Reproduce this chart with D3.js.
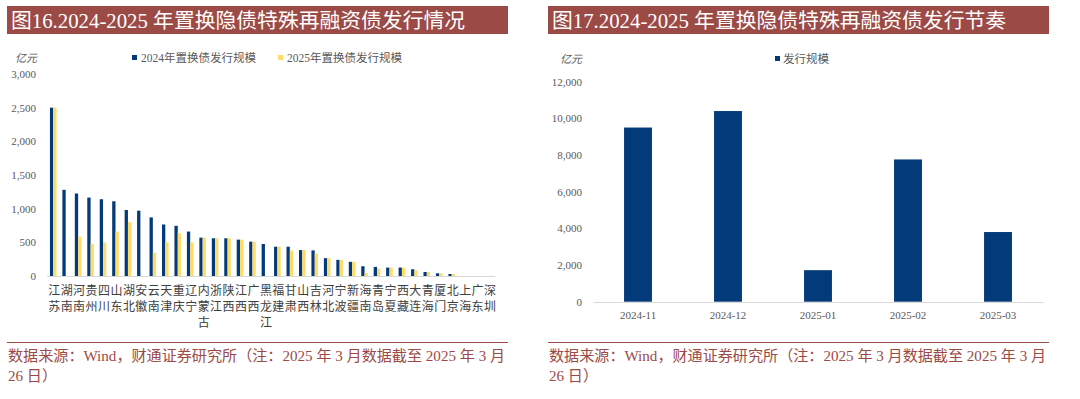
<!DOCTYPE html>
<html>
<head>
<meta charset="utf-8">
<script src="https://cdn.jsdelivr.net/npm/d3@7"></script>
<style>
  body { margin: 0; background: #fff; }
  svg { display: block; }
  text { font-family: "Liberation Serif", "Noto Sans CJK SC", serif; }
</style>
</head>
<body>
<div id="chart"></div>
<script>
// Data: province issuance (亿元)
var provinces = ["江苏","湖南","河南","贵州","四川","山东","湖北","安徽","云南","天津","重庆","辽宁",
  "内蒙古","浙江","陕西","江西","广西","黑龙江","福建","甘肃","山西","吉林","河北","宁波",
  "新疆","海南","青岛","宁夏","西藏","大连","青海","厦门","北京","上海","广东","深圳"];
var issue2024 = [2500,1280,1225,1165,1140,1110,980,970,870,765,745,660,
  570,560,560,540,510,475,435,435,385,380,265,240,
  210,145,135,125,125,100,60,40,30,0,0,0];
var issue2025 = [2500,0,585,475,500,660,800,0,345,500,635,500,
  570,560,560,540,510,0,435,380,385,335,265,240,
  210,45,110,125,125,85,60,40,30,0,0,0];
var seriesNames = ["2024年置换债发行规模", "2025年置换债发行规模"];
var leftTicks = [0,500,1000,1500,2000,2500,3000];

// Data: monthly rhythm (亿元)
var months = ["2024-11","2024-12","2025-01","2025-02","2025-03"];
var monthly = [9500,10400,1720,7760,3800];
var rightTicks = [0,2000,4000,6000,8000,10000,12000];

var navy = "#023a7a", yellow = "#ffdc6a", brick = "#9c4a46";
var fmt = d3.format(",");

var svg = d3.select("#chart").append("svg")
    .attr("width", 1080)
    .attr("height", 399);

// Panel frame: title bar + footer
function panel(x0, title) {
  svg.append("rect")
      .attr("x", x0).attr("y", 6)
      .attr("width", 501).attr("height", 28)
      .attr("fill", brick);
  svg.append("text")
      .attr("x", x0 + 4).attr("y", 27.5)
      .attr("fill", "#fff")
      .style("font-size", "20.8px")
      .text(title);
  svg.append("line")
      .attr("x1", x0).attr("x2", x0 + 501)
      .attr("y1", 342.5).attr("y2", 342.5)
      .attr("stroke", brick).attr("stroke-width", 1);
  var foot = svg.append("text")
      .attr("fill", brick)
      .style("font-size", "15.1px");
  foot.append("tspan").attr("x", x0 + 1).attr("y", 361)
      .text("数据来源：Wind，财通证券研究所（注：2025 年 3 月数据截至 2025 年 3 月");
  foot.append("tspan").attr("x", x0 + 1).attr("y", 381)
      .text("26 日）");
}

panel(7, "图16.2024-2025 年置换隐债特殊再融资债发行情况");
panel(548, "图17.2024-2025 年置换隐债特殊再融资债发行节奏");

// ---------- Left chart ----------
var x1 = d3.scaleBand()
    .domain(provinces)
    .range([47, 495.3])
    .padding(0);
var xs = d3.scaleBand()
    .domain([0, 1])
    .range([x1.bandwidth() / 2 - 3.3, x1.bandwidth() / 2 + 3.3]);
var y1 = d3.scaleLinear()
    .domain([0, 3000])
    .range([276, 74]);

var gl = svg.append("g");

gl.append("g")
    .attr("transform", "translate(36,0)")
    .call(d3.axisLeft(y1).tickValues(leftTicks).tickFormat(fmt).tickSize(0).tickPadding(0))
    .call(function(g) { g.select(".domain").remove(); })
    .selectAll("text")
    .attr("fill", "#595959")
    .style("font-size", "11px")
    .style("font-family", "Liberation Serif");

var groups = gl.selectAll(".prov")
    .data(provinces)
    .enter().append("g")
    .attr("transform", function(d) { return "translate(" + x1(d) + ",0)"; });

groups.selectAll("rect")
    .data(function(d, i) { return [issue2024[i], issue2025[i]]; })
    .enter().append("rect")
    .attr("x", function(d, j) { return xs(j); })
    .attr("width", xs.bandwidth())
    .attr("y", function(d) { return y1(d); })
    .attr("height", function(d) { return y1(0) - y1(d); })
    .attr("fill", function(d, j) { return j === 0 ? navy : yellow; });

gl.append("line")
    .attr("x1", 47).attr("x2", 495.3)
    .attr("y1", 276.5).attr("y2", 276.5)
    .attr("stroke", "#d9d9d9");

// vertical category labels
groups.append("text")
    .attr("fill", "#404040")
    .attr("text-anchor", "middle")
    .style("font-size", "12px")
    .style("font-family", "Noto Sans CJK SC")
    .selectAll("tspan")
    .data(function(d) { return d.split(""); })
    .enter().append("tspan")
    .attr("x", x1.bandwidth() / 2 + 1)
    .attr("y", function(c, k) { return 294.5 + k * 16.3; })
    .text(function(c) { return c; });

// unit + legend
gl.append("text").attr("x", 15).attr("y", 62)
    .attr("fill", "#595959").style("font-size", "11px")
    .style("font-style", "italic").text("亿元");
var legL = gl.selectAll(".leg")
    .data(seriesNames)
    .enter().append("g")
    .attr("transform", function(d, i) { return "translate(" + (132 + i * 146) + ",0)"; });
legL.append("rect").attr("x", 0).attr("y", 55).attr("width", 5).attr("height", 5)
    .attr("fill", function(d, i) { return i === 0 ? navy : yellow; });
legL.append("text").attr("x", 9).attr("y", 62)
    .attr("fill", "#595959").style("font-size", "11.5px")
    .text(function(d) { return d; });

// ---------- Right chart ----------
var x2 = d3.scaleBand()
    .domain(months)
    .range([593, 1043])
    .paddingInner(0.69)
    .paddingOuter(0.345);
var y2 = d3.scaleLinear()
    .domain([0, 12000])
    .range([301.7, 81.7]);

var gr = svg.append("g");

gr.append("g")
    .attr("transform", "translate(582,0)")
    .call(d3.axisLeft(y2).tickValues(rightTicks).tickFormat(fmt).tickSize(0).tickPadding(0))
    .call(function(g) { g.select(".domain").remove(); })
    .selectAll("text")
    .attr("fill", "#595959")
    .style("font-size", "11px")
    .style("font-family", "Liberation Serif");

gr.selectAll(".bar")
    .data(monthly)
    .enter().append("rect")
    .attr("x", function(d, i) { return x2(months[i]); })
    .attr("width", x2.bandwidth())
    .attr("y", function(d) { return y2(d); })
    .attr("height", function(d) { return y2(0) - y2(d); })
    .attr("fill", navy);

gr.append("g")
    .attr("transform", "translate(0,302)")
    .call(d3.axisBottom(x2).tickSize(0).tickPadding(9))
    .call(function(g) { g.select(".domain").attr("stroke", "#d9d9d9"); })
    .selectAll("text")
    .attr("fill", "#595959")
    .style("font-size", "11px")
    .style("font-family", "Liberation Serif");

gr.append("text").attr("x", 560).attr("y", 63)
    .attr("fill", "#595959").style("font-size", "11px")
    .style("font-style", "italic").text("亿元");
gr.append("rect").attr("x", 775).attr("y", 56).attr("width", 5).attr("height", 5)
    .attr("fill", navy);
gr.append("text").attr("x", 783).attr("y", 63)
    .attr("fill", "#595959").style("font-size", "11.5px")
    .text("发行规模");
</script>
</body>
</html>
